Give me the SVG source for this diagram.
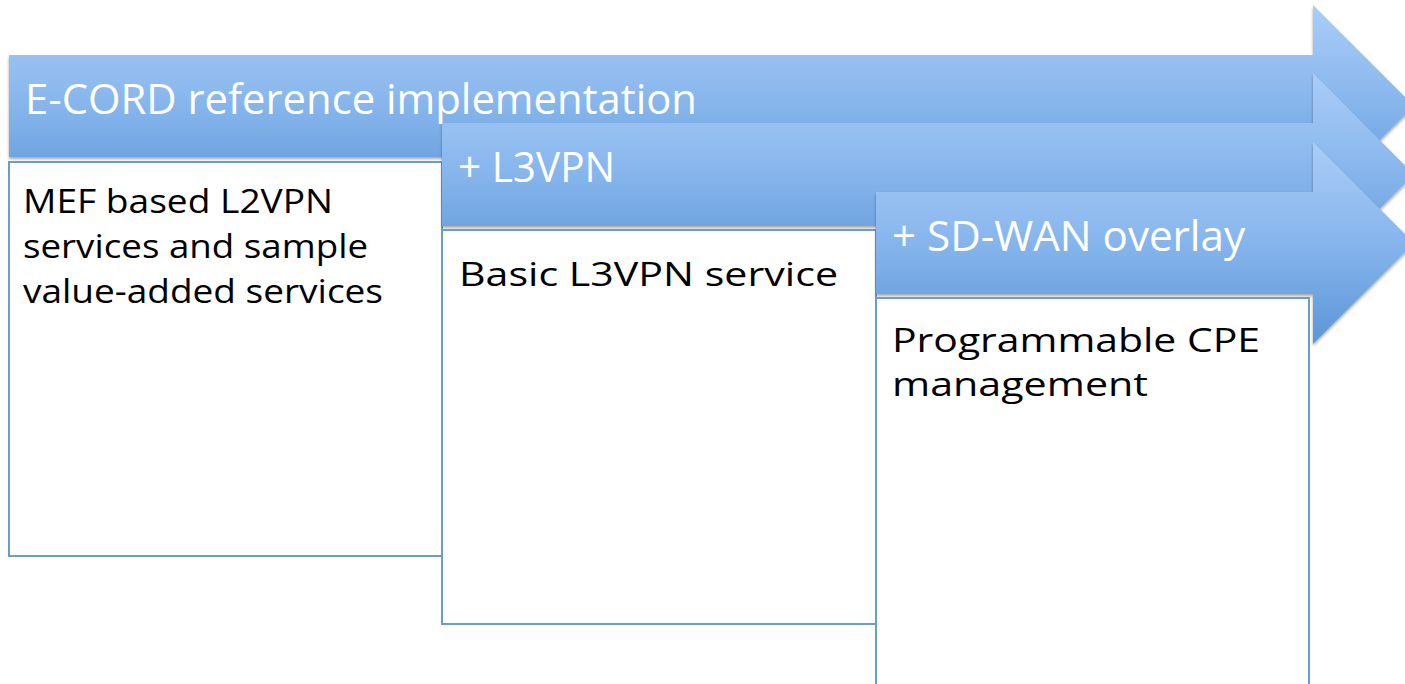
<svg xmlns="http://www.w3.org/2000/svg" width="1405" height="684" viewBox="0 0 1405 684">
  <defs>
    <linearGradient id="arrowGrad" x1="0" y1="0" x2="0" y2="1">
      <stop offset="0" stop-color="#abcdf8"/>
      <stop offset="0.5" stop-color="#86b5ec"/>
      <stop offset="1" stop-color="#5b96d8"/>
    </linearGradient>
    <filter id="shadow" x="-5%" y="-10%" width="110%" height="130%">
      <feDropShadow dx="0" dy="2" stdDeviation="1.6" flood-color="#000" flood-opacity="0.35"/>
    </filter>
    <style>
      .arrow { fill: url(#arrowGrad); filter: url(#shadow); }
      .box { fill: #ffffff; stroke: #6b9bd2; stroke-width: 2; }
      .head { fill: #ffffff; font-family: "Open Sans", "Liberation Sans", sans-serif; font-size: 42px; }
      .body { fill: #000000; font-family: "Open Sans", "Liberation Sans", sans-serif; font-size: 32px; }
    </style>
  </defs>

  <g id="stage1">
    <path class="arrow" d="M9,55 H1313 V5 L1414,106 L1313,207 V157 H9 Z"/>
    <rect class="box" x="9" y="162" width="433" height="394"/>
    <text class="head" x="25" y="114" textLength="672" lengthAdjust="spacingAndGlyphs">E-CORD reference implementation</text>
    <text class="body" x="23" y="213" textLength="310" lengthAdjust="spacingAndGlyphs">MEF based L2VPN</text>
    <text class="body" x="23" y="258" textLength="345" lengthAdjust="spacingAndGlyphs">services and sample</text>
    <text class="body" x="23" y="303" textLength="360" lengthAdjust="spacingAndGlyphs">value-added services</text>
  </g>

  <g id="stage2">
    <path class="arrow" d="M442,123 H1313 V73 L1414,174.5 L1313,276 V226 H442 Z"/>
    <rect class="box" x="442" y="230" width="434" height="394"/>
    <text class="head" x="458" y="182" textLength="157" lengthAdjust="spacingAndGlyphs">+ L3VPN</text>
    <text class="body" x="459" y="286" textLength="379" lengthAdjust="spacingAndGlyphs">Basic L3VPN service</text>
  </g>

  <g id="stage3">
    <path class="arrow" d="M876,192 H1313 V142 L1414,243 L1313,344 V294 H876 Z"/>
    <rect class="box" x="876" y="298" width="433" height="400"/>
    <text class="head" x="892" y="251" textLength="353" lengthAdjust="spacingAndGlyphs">+ SD-WAN overlay</text>
    <text class="body" x="892" y="352" textLength="368" lengthAdjust="spacingAndGlyphs">Programmable CPE</text>
    <text class="body" x="892" y="396" textLength="256" lengthAdjust="spacingAndGlyphs">management</text>
  </g>

  <g id="connectors"></g>
</svg>
